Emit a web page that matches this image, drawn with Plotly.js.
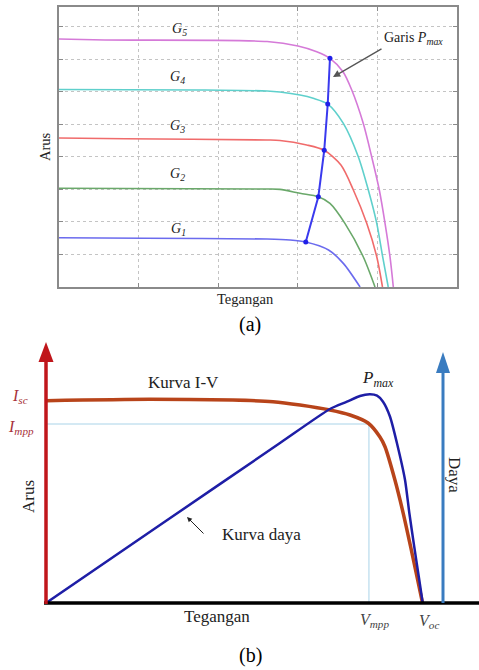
<!DOCTYPE html>
<html>
<head>
<meta charset="utf-8">
<script src="https://cdn.plot.ly/plotly-3.0.1.min.js"></script>
<style>html,body{margin:0;padding:0;background:#fff;}#chart{width:479px;height:670px;}</style>
</head>
<body>
<div id="chart"></div>
<script>
// ---------- Panel (a): I-V curves for five irradiance levels ----------
const g5V = [0, 2.89, 13.07, 15.01, 16.19, 17.02, 17.84, 18.39, 19.11, 19.64, 20.12, 20.48, 20.79, 21.00];
const g5I = [3.808, 3.793, 3.770, 3.701, 3.613, 3.512, 3.306, 3.025, 2.514, 2.001, 1.490, 0.978, 0.465, 0];
const g4V = [0, 8.86, 13.07, 13.88, 15.14, 15.97, 16.88, 17.86, 18.80, 19.43, 19.96, 20.33, 20.68];
const g4I = [3.033, 3.025, 3.010, 2.994, 2.948, 2.898, 2.810, 2.514, 2.001, 1.490, 0.978, 0.465, 0];
const g3V = [0, 4.15, 13.07, 13.88, 15.56, 16.66, 17.71, 18.49, 19.33, 19.96, 20.32];
const g3I = [2.288, 2.277, 2.258, 2.250, 2.181, 2.099, 1.873, 1.490, 0.978, 0.465, 0];
const g2V = [0, 13.07, 13.88, 15.14, 16.29, 17.02, 17.96, 19.11, 19.85];
const g2I = [1.516, 1.505, 1.500, 1.439, 1.387, 1.285, 0.978, 0.465, 0];
const g1V = [0, 5.40, 13.07, 14.51, 15.50, 16.93, 17.86, 18.91];
const g1I = [0.757, 0.748, 0.737, 0.722, 0.691, 0.568, 0.363, 0];
const mppV = [15.50, 16.29, 16.66, 16.88, 17.02];
const mppI = [0.691, 1.387, 2.099, 2.810, 3.512];
const gLabels = ["G1", "G2", "G3", "G4", "G5"];

// ---------- Panel (b): I-V curve and power curve ----------
const ivV = [0, 5.76, 10.36, 12.58, 14.08, 15.74, 16.85, 17.85, 18.51, 18.79, 19.34, 19.80, 20.21, 20.60, 20.87];
const ivI = [3.846, 3.873, 3.859, 3.827, 3.764, 3.669, 3.574, 3.422, 3.156, 2.971, 2.338, 1.705, 1.070, 0.437, 0];
const pV = [0, 6.50, 12.97, 15.74, 16.68, 17.40, 17.96, 18.35, 18.68, 19.07, 19.45, 19.90, 20.14, 20.41, 20.69, 20.88];
const pP = [0, 24.4, 48.67, 59.01, 61.23, 62.97, 63.48, 63.06, 61.23, 56.67, 48.67, 37.41, 27.29, 17.13, 7.00, 0];
const Vmpp = 17.90;
const Impp = 3.403;

// ---------- helpers for layout placement (pixel -> paper) ----------
const W = 479, H = 670;
const px = x => x / W;
const py = y => 1 - y / H;
const SERIF = '"Liberation Serif", "Times New Roman", "DejaVu Serif", serif';

const gColors = ["#6b6bee", "#6aa86a", "#f06b6b", "#5fd0cc", "#d57ad8"];
const gData = [[g1V, g1I], [g2V, g2I], [g3V, g3I], [g4V, g4I], [g5V, g5I]];

const traces = [];
gData.forEach((d, i) => {
  traces.push({
    x: d[0], y: d[1], type: "scatter", mode: "lines", name: gLabels[i],
    line: {color: gColors[i], width: 1.6, shape: "spline", smoothing: 0.8},
    xaxis: "x", yaxis: "y", hoverinfo: "skip"
  });
});
traces.push({
  x: mppV, y: mppI, type: "scatter", mode: "lines+markers", name: "Pmax",
  line: {color: "#3a3aee", width: 2}, marker: {color: "#1f1fe8", size: 5},
  xaxis: "x", yaxis: "y", hoverinfo: "skip"
});
// reference lines at MPP
traces.push({
  x: [0, Vmpp, Vmpp], y: [Impp, Impp, 0], type: "scatter", mode: "lines",
  line: {color: "#a9d3e8", width: 1}, xaxis: "x2", yaxis: "y2", hoverinfo: "skip"
});
traces.push({
  x: ivV, y: ivI, type: "scatter", mode: "lines",
  line: {color: "#b8441a", width: 3.5, shape: "spline", smoothing: 0.7},
  xaxis: "x2", yaxis: "y2", hoverinfo: "skip", cliponaxis: false
});
traces.push({
  x: pV, y: pP, type: "scatter", mode: "lines",
  line: {color: "#1e1ea6", width: 2.5, shape: "spline", smoothing: 0.6},
  xaxis: "x2", yaxis: "y3", hoverinfo: "skip", cliponaxis: false
});

const ann = (x, y, text, size, opts) => Object.assign({
  x: px(x), y: py(y), xref: "paper", yref: "paper", text: text, showarrow: false,
  xanchor: "center", yanchor: "middle", font: {family: SERIF, size: size, color: "#222"}
}, opts || {});

const annotations = [
  ann(179, 29, "<i>G<sub>5</sub></i>", 14),
  ann(177, 78, "<i>G<sub>4</sub></i>", 14),
  ann(177, 126, "<i>G<sub>3</sub></i>", 14),
  ann(177, 174, "<i>G<sub>2</sub></i>", 14),
  ann(178, 229, "<i>G<sub>1</sub></i>", 14),
  ann(413, 38, "Garis <i>P<sub>max</sub></i>", 14),
  ann(45, 147, "Arus", 14.5, {textangle: -90}),
  ann(245, 299, "Tegangan", 14.5),
  ann(250, 325, "(a)", 20, {font: {family: SERIF, size: 20, color: "#000"}}),
  {x: px(333), y: py(77), xref: "paper", yref: "paper", text: "", showarrow: true,
   ax: 50, ay: -29, arrowhead: 2, arrowsize: 1.1, arrowwidth: 1.3, arrowcolor: "#555"},
  ann(183, 382, "Kurva I-V", 17),
  ann(378, 379, "<i>P<sub>max</sub></i>", 17),
  ann(20, 397, "<i>I<sub>sc</sub></i>", 16, {font: {family: SERIF, size: 16, color: "#a8323a"}}),
  ann(21, 427, "<i>I<sub>mpp</sub></i>", 16, {font: {family: SERIF, size: 16, color: "#a8323a"}}),
  ann(28, 497, "Arus", 17, {textangle: -90}),
  ann(455, 475, "Daya", 17, {textangle: 90}),
  ann(261, 534, "Kurva daya", 17),
  {x: px(187), y: py(517), xref: "paper", yref: "paper", text: "", showarrow: true,
   ax: 18, ay: 18, arrowhead: 2, arrowsize: 1, arrowwidth: 1, arrowcolor: "#222"},
  ann(217, 616, "Tegangan", 17),
  ann(374, 620, "<i>V<sub>mpp</sub></i>", 16, {font: {family: SERIF, size: 16, color: "#444"}}),
  ann(429, 621, "<i>V<sub>oc</sub></i>", 16, {font: {family: SERIF, size: 16, color: "#444"}}),
  ann(250, 655, "(b)", 20, {font: {family: SERIF, size: 20, color: "#000"}})
];

const shapes = [
  // black voltage axis
  {type: "line", xref: "paper", yref: "paper", x0: px(44), x1: px(479), y0: py(603), y1: py(603),
   line: {color: "#000", width: 3.5}},
  // red current axis with arrow head
  {type: "line", xref: "paper", yref: "paper", x0: px(46), x1: px(46), y0: py(604), y1: py(358),
   line: {color: "#c0161b", width: 3.5}},
  {type: "path", xref: "paper", yref: "paper",
   path: `M ${px(46)} ${py(342)} L ${px(38.5)} ${py(362)} L ${px(53.5)} ${py(362)} Z`,
   fillcolor: "#c0161b", line: {width: 0}},
  // blue power axis with arrow head
  {type: "line", xref: "paper", yref: "paper", x0: px(443), x1: px(443), y0: py(603), y1: py(370),
   line: {color: "#3a7cc0", width: 3}},
  {type: "path", xref: "paper", yref: "paper",
   path: `M ${px(443)} ${py(352)} L ${px(436)} ${py(373)} L ${px(450)} ${py(373)} Z`,
   fillcolor: "#3a7cc0", line: {width: 0}}
];

const layout = {
  width: W, height: H, margin: {l: 0, r: 0, t: 0, b: 0},
  paper_bgcolor: "#fff", plot_bgcolor: "#fff", showlegend: false,
  font: {family: SERIF},
  xaxis: {domain: [px(59), px(457)], range: [0, 25], dtick: 5, tick0: 0,
    showgrid: true, gridcolor: "#c4c4c4", griddash: "dot", gridwidth: 1,
    showline: true, linecolor: "#8a8a8a", linewidth: 1.6, mirror: "ticks",
    ticks: "inside", ticklen: 4, tickcolor: "#8a8a8a", showticklabels: false,
    zeroline: false, fixedrange: true},
  yaxis: {domain: [py(287), py(7)], range: [0, 4.3], dtick: 0.5, tick0: 0,
    showgrid: true, gridcolor: "#c4c4c4", griddash: "dot", gridwidth: 1,
    showline: true, linecolor: "#8a8a8a", linewidth: 1.6, mirror: "ticks",
    ticks: "inside", ticklen: 4, tickcolor: "#8a8a8a", showticklabels: false,
    zeroline: false, fixedrange: true},
  xaxis2: {domain: [px(46), 1], range: [0, 24], visible: false, fixedrange: true, anchor: "y2"},
  yaxis2: {domain: [py(603), py(340)], range: [0, 5], visible: false, fixedrange: true, anchor: "x2"},
  yaxis3: {domain: [py(603), py(340)], range: [0, 80], visible: false, overlaying: "y2", anchor: "x2", fixedrange: true},
  annotations: annotations,
  shapes: shapes
};

Plotly.newPlot("chart", traces, layout, {displayModeBar: false, staticPlot: true});
</script>
</body>
</html>
